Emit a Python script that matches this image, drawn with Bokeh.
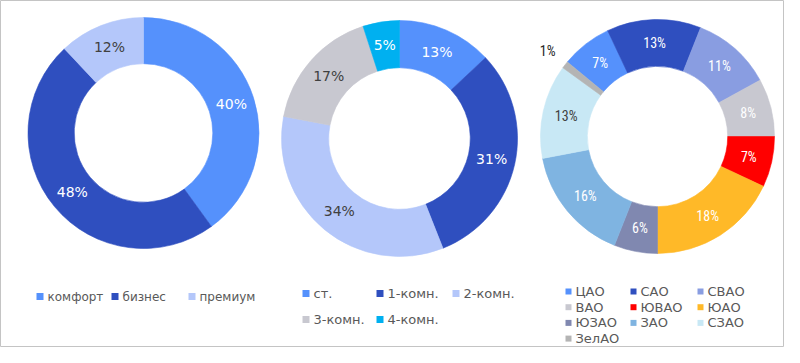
import numpy as np
from bokeh.plotting import figure
from bokeh.models import Range1d
from bokeh.core.properties import value
from bokeh.embed import file_html
from bokeh.resources import INLINE

# ---------------- data ----------------
class_labels = ["комфорт", "бизнес", "премиум"]
class_shares = [40, 48, 12]

room_labels = ["ст.", "1-комн.", "2-комн.", "3-комн.", "4-комн."]
room_shares = [13, 31, 34, 17, 5]

district_labels = ["ЦАО", "САО", "СВАО", "ВАО", "ЮВАО", "ЮАО", "ЮЗАО", "ЗАО", "СЗАО", "ЗелАО"]
district_shares = [7, 13, 11, 8, 7, 18, 6, 16, 13, 1]

# ---------------- styles ----------------
class_colors = ["#5591FC", "#2F4FBF", "#B4C7FA"]
class_text = ["white", "white", "#404040"]
room_colors = ["#5591FC", "#2F4FBF", "#B4C7FA", "#C8C8D0", "#00B0F0"]
room_text = ["white", "white", "#404040", "#404040", "white"]
district_colors = ["#5591FC", "#2F4FBF", "#899DE1", "#C8C8D0", "#FF0000",
                   "#FFB928", "#8088B0", "#7FB4E1", "#C8E8F5", "#B4B4B4"]
district_text = ["white", "white", "white", "white", "white",
                 "white", "white", "white", "#404040", "#262626"]

W, H = 784, 347
DY = -4  # small upward shift so that everything fits the frame


def px(x):
    return np.asarray(x, dtype=float)


def py(y):
    return H - (np.asarray(y, dtype=float) + DY)


p = figure(width=W, height=H, x_range=Range1d(0, W), y_range=Range1d(0, H),
           x_axis_type=None, y_axis_type=None, toolbar_location=None,
           output_backend="svg", min_border=0,
           outline_line_color="#C4C4C4", outline_line_width=1,
           background_fill_color="white", border_fill_color="white")

charts = [
    dict(labels=class_labels, shares=class_shares, colors=class_colors, tcolors=class_text,
         cx=143, cy=136.5, ro=115.5, start=0.0, font="DejaVu Sans", fsize="14px",
         leg_x=[36, 111, 188], leg_y=[300], ncol=3, sq=7, gap=11, lsize="12px"),
    dict(labels=room_labels, shares=room_shares, colors=room_colors, tcolors=room_text,
         cx=399, cy=142, ro=118, start=0.0, font="DejaVu Sans", fsize="14px",
         leg_x=[302, 376, 452], leg_y=[297, 323], ncol=3, sq=7, gap=11, lsize="13px"),
    dict(labels=district_labels, shares=district_shares, colors=district_colors, tcolors=district_text,
         cx=657, cy=140, ro=117, start=-50.4, font="'Liberation Sans Narrow', 'Roboto Condensed', Roboto",
         fsize="14px",
         leg_x=[565, 630, 697], leg_y=[295, 310.7, 326.4, 342.1], ncol=3, sq=6, gap=10, lsize="13px"),
]

for c in charts:
    shares = np.array(c["shares"], dtype=float)
    fr = shares / shares.sum()
    cum = np.concatenate([[0.0], np.cumsum(fr)])
    t0 = c["start"] + cum[:-1] * 360.0   # clockwise from 12 o'clock
    t1 = c["start"] + cum[1:] * 360.0
    ro = c["ro"]
    ri = ro * 0.6
    cx, cy = float(px(c["cx"])), float(py(c["cy"]))
    n = len(shares)
    p.annular_wedge(x=[cx] * n, y=[cy] * n, inner_radius=ri, outer_radius=ro,
                    start_angle=np.radians(90 - t1), end_angle=np.radians(90 - t0),
                    fill_color=c["colors"], line_color=c["colors"], line_width=0.6)

    mid = np.radians((t0 + t1) / 2.0)
    rl = np.where(shares < 3, ro + 22, (ro + ri) / 2.0)
    lx = cx + rl * np.sin(mid)
    ly = cy + rl * np.cos(mid)
    txt = ["%d%%" % round(v) for v in fr * 100]
    p.text(x=lx, y=ly, text=txt, text_align="center", text_baseline="middle",
           text_font=value(c["font"]), text_font_size=value(c["fsize"]),
           text_color=c["tcolors"])

    # legend
    ncol = c["ncol"]
    sx, sy, tx = [], [], []
    for i in range(n):
        col, row = i % ncol, i // ncol
        sx.append(c["leg_x"][col] + c["sq"] / 2.0)
        tx.append(c["leg_x"][col] + c["gap"])
        sy.append(c["leg_y"][row])
    p.rect(x=px(sx), y=py(sy), width=c["sq"], height=c["sq"],
           fill_color=c["colors"], line_color=None)
    p.text(x=px(tx), y=py(sy), text=c["labels"], text_align="left", text_baseline="middle",
           text_font=value("DejaVu Sans"), text_font_size=value(c["lsize"]),
           text_color="#595959")

open("out.html", "w").write(file_html(p, INLINE))
